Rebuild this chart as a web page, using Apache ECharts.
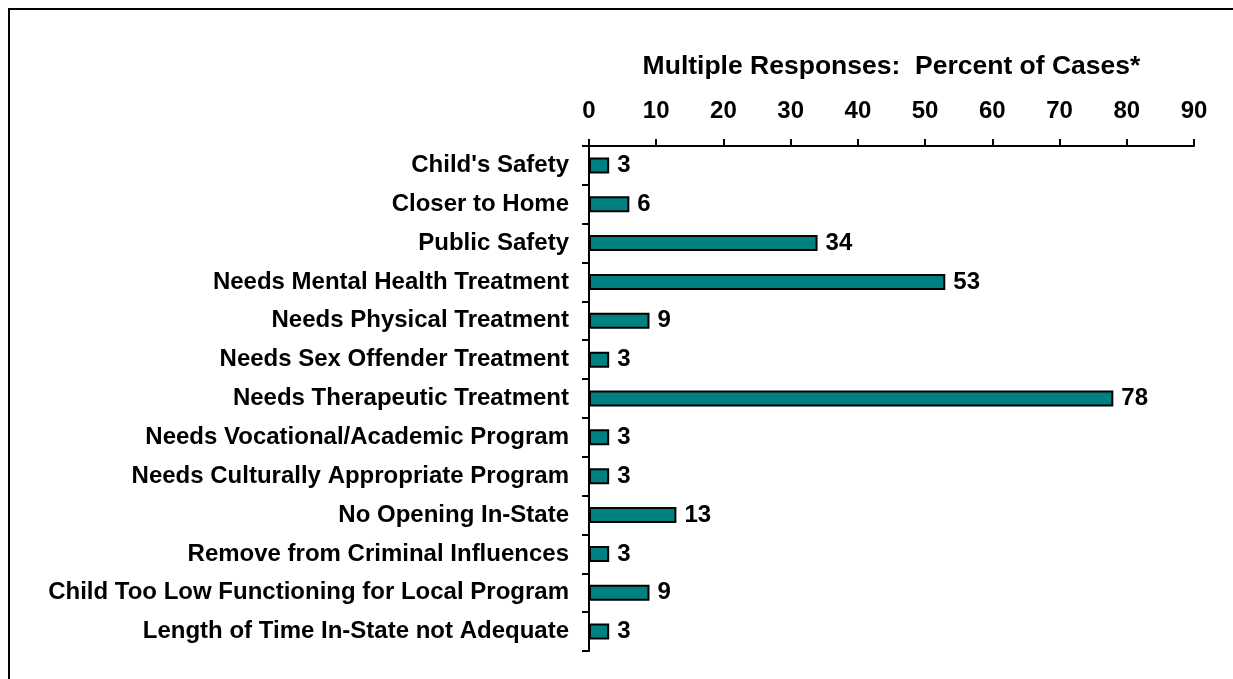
<!DOCTYPE html>
<html>
<head>
<meta charset="utf-8">
<script src="https://cdn.jsdelivr.net/npm/echarts@6/dist/echarts.min.js"></script>
<style>
  html, body { margin: 0; padding: 0; background: #fff; }
  #chart { width: 1233px; height: 679px; }
</style>
</head>
<body>
<div id="chart"></div>
<script>
const categories = [
  "Child's Safety",
  'Closer to Home',
  'Public Safety',
  'Needs Mental Health Treatment',
  'Needs Physical Treatment',
  'Needs Sex Offender Treatment',
  'Needs Therapeutic Treatment',
  'Needs Vocational/Academic Program',
  'Needs Culturally Appropriate Program',
  'No Opening In-State',
  'Remove from Criminal Influences',
  'Child Too Low Functioning for Local Program',
  'Length of Time In-State not Adequate'
];
const percentOfCases = [3, 6, 34, 53, 9, 3, 78, 3, 3, 13, 3, 9, 3];
const axisTitle = 'Multiple Responses:  Percent of Cases*';

const font = { fontFamily: 'Liberation Sans, Arial, sans-serif', fontWeight: 'bold', color: '#000' };

const chart = echarts.init(document.getElementById('chart'));
chart.setOption({
  backgroundColor: '#fff',
  animation: false,
  grid: { left: 589, right: 39, top: 146, bottom: 28 },
  xAxis: {
    type: 'value',
    position: 'top',
    min: 0,
    max: 90,
    interval: 10,
    name: axisTitle,
    nameLocation: 'middle',
    nameGap: 66,
    nameTextStyle: { ...font, fontSize: 26.5 },
    axisLine: { show: true, lineStyle: { color: '#000', width: 2 } },
    axisTick: { show: true, length: 7, lineStyle: { color: '#000', width: 2 } },
    axisLabel: { ...font, fontSize: 24, margin: 23 },
    splitLine: { show: false }
  },
  yAxis: {
    type: 'category',
    inverse: true,
    data: categories,
    axisLine: { show: true, lineStyle: { color: '#000', width: 2 } },
    axisTick: { show: true, length: 7, lineStyle: { color: '#000', width: 2 } },
    axisLabel: { ...font, fontSize: 24, margin: 20 }
  },
  series: [{
    type: 'bar',
    data: percentOfCases,
    barWidth: 16,
    itemStyle: { color: '#008080', borderColor: '#000', borderWidth: 2 },
    label: { show: true, position: 'right', distance: 8, ...font, fontSize: 24 }
  }],
  graphic: [{
    type: 'rect',
    silent: true,
    shape: { x: 9, y: 9, width: 1400, height: 900 },
    style: { fill: 'none', stroke: '#000', lineWidth: 2 }
  }]
});
</script>
</body>
</html>
